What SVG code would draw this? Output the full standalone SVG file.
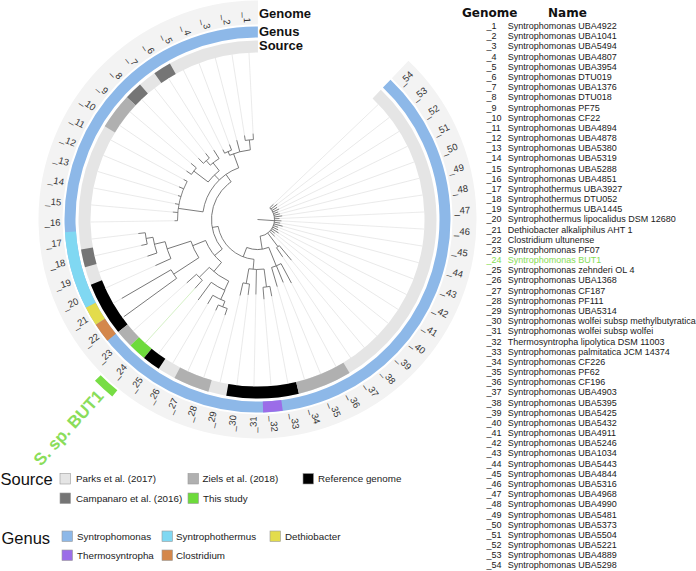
<svg xmlns="http://www.w3.org/2000/svg" width="696" height="571" viewBox="0 0 696 571">
<style>
text{font-family:"Liberation Sans",Arial,sans-serif}
.t line{stroke:#666;stroke-width:.8}
.t circle{fill:none;stroke:#666;stroke-width:.8}
.c line{stroke:#e6e6e6;stroke-width:.8}
.ring circle{fill:none}
.lab{font-size:9.5px;fill:#333}
.lst{font-size:9px;fill:#1a1a1a}
.lg{font-size:9.8px;fill:#222}
.sw{stroke:#9a9a9a;stroke-width:.6}
.hd{font-size:13px;font-weight:bold;fill:#111}
.hd2{font-family:"DejaVu Sans",Verdana,sans-serif;font-size:12px;font-weight:bold;fill:#111}
.ttl{font-size:16.5px;fill:#111}
</style>
<rect width="696" height="571" fill="#fff"/>
<g transform="translate(257.5 219.5)">
 <g id="rings" class="ring">
  <circle r="207" stroke="#f3f3f3" stroke-width="24" transform="rotate(-46.44)" stroke-dasharray="1143.2 3000"/>
  <g id="genus-ring">
   <circle r="187.5" stroke="#8db8e8" stroke-width="11" transform="rotate(-46.44)" stroke-dasharray="1035.5 3000"/>
   <circle r="187.5" stroke="#80d8f2" stroke-width="11" transform="rotate(-207.2)" stroke-dasharray="76.71 3000"/>
   <circle r="187.5" stroke="#e3dc4c" stroke-width="11" transform="rotate(-213.06)" stroke-dasharray="19.18 3000"/>
   <circle r="187.5" stroke="#d4874b" stroke-width="11" transform="rotate(-218.92)" stroke-dasharray="19.18 3000"/>
   <circle r="187.5" stroke="#9b6de8" stroke-width="11" transform="rotate(-277.52)" stroke-dasharray="19.18 3000"/>
  </g>
  <g id="source-ring">
   <circle r="173" stroke="#e5e5e5" stroke-width="12" transform="rotate(-46.44)" stroke-dasharray="955.5 3000"/>
   <circle r="173" stroke="#757575" stroke-width="12" transform="rotate(-125.16)" stroke-dasharray="17.69 3000"/>
   <circle r="173" stroke="#757575" stroke-width="12" transform="rotate(-136.88)" stroke-dasharray="17.69 3000"/>
   <circle r="173" stroke="#b0b0b0" stroke-width="12" transform="rotate(-148.6)" stroke-dasharray="35.39 3000"/>
   <circle r="173" stroke="#757575" stroke-width="12" transform="rotate(-195.48)" stroke-dasharray="17.69 3000"/>
   <circle r="173" stroke="#000" stroke-width="12" transform="rotate(-218.92)" stroke-dasharray="53.08 3000"/>
   <circle r="173" stroke="#b0b0b0" stroke-width="12" transform="rotate(-224.78)" stroke-dasharray="17.69 3000"/>
   <circle r="173" stroke="#6ddb3b" stroke-width="12" transform="rotate(-230.64)" stroke-dasharray="17.69 3000"/>
   <circle r="173" stroke="#000" stroke-width="12" transform="rotate(-236.5)" stroke-dasharray="17.69 3000"/>
   <circle r="173" stroke="#b0b0b0" stroke-width="12" transform="rotate(-254.08)" stroke-dasharray="35.39 3000"/>
   <circle r="173" stroke="#000" stroke-width="12" transform="rotate(-283.38)" stroke-dasharray="70.77 3000"/>
   <circle r="173" stroke="#b0b0b0" stroke-width="12" transform="rotate(-300.96)" stroke-dasharray="53.08 3000"/>
  </g>
  <circle id="but1-bar" r="225" stroke="#77dd44" stroke-width="8" transform="rotate(-230.64)" stroke-dasharray="23.01 3000"/>
 </g>
 <g id="leaf-connectors" class="c">
  <line transform="rotate(-2.93)" y1="-86" y2="-167"/>
  <line transform="rotate(-8.79)" y1="-85" y2="-167"/>
  <line transform="rotate(-14.65)" y1="-82" y2="-167"/>
  <line transform="rotate(-20.51)" y1="-80" y2="-167"/>
  <line transform="rotate(-26.37)" y1="-78" y2="-167"/>
  <line transform="rotate(-32.24)" y1="-82" y2="-167"/>
  <line transform="rotate(-38.1)" y1="-84" y2="-167"/>
  <line transform="rotate(-43.96)" y1="-85" y2="-167"/>
  <line transform="rotate(-49.82)" y1="-87" y2="-167"/>
  <line transform="rotate(-55.68)" y1="-86" y2="-167"/>
  <line transform="rotate(-61.55)" y1="-84" y2="-167"/>
  <line transform="rotate(-67.41)" y1="-85" y2="-167"/>
  <line transform="rotate(-73.27)" y1="-83" y2="-167"/>
  <line transform="rotate(-79.13)" y1="-84" y2="-167"/>
  <line transform="rotate(-84.99)" y1="-85" y2="-167"/>
  <line transform="rotate(-90.86)" y1="-83" y2="-167"/>
  <line transform="rotate(-96.72)" y1="-120" y2="-167"/>
  <line transform="rotate(-102.58)" y1="-119" y2="-167"/>
  <line transform="rotate(-108.44)" y1="-116" y2="-167"/>
  <line transform="rotate(-114.3)" y1="-112" y2="-167"/>
  <line transform="rotate(-120.17)" y1="-157" y2="-167"/>
  <line transform="rotate(-126.03)" y1="-165" y2="-167"/>
  <line transform="rotate(-131.89)" y1="-95" y2="-167"/>
  <line transform="rotate(-137.75)" y1="-93" y2="-167" style="stroke:#cdeebb"/>
  <line transform="rotate(-143.61)" y1="-100" y2="-167"/>
  <line transform="rotate(-149.47)" y1="-98" y2="-167"/>
  <line transform="rotate(-155.34)" y1="-100" y2="-167"/>
  <line transform="rotate(-161.2)" y1="-101" y2="-167"/>
  <line transform="rotate(-167.06)" y1="-78" y2="-167"/>
  <line transform="rotate(-172.92)" y1="-76" y2="-167"/>
  <line transform="rotate(-178.78)" y1="-75" y2="-167"/>
  <line transform="rotate(-184.65)" y1="-80" y2="-167"/>
  <line transform="rotate(-190.51)" y1="-78" y2="-167"/>
  <line transform="rotate(163.63)" y1="-70" y2="-167"/>
  <line transform="rotate(157.77)" y1="-68" y2="-167"/>
  <line transform="rotate(151.91)" y1="-72" y2="-167"/>
  <line transform="rotate(146.04)" y1="-45" y2="-167"/>
  <line transform="rotate(140.18)" y1="-53" y2="-167"/>
  <line transform="rotate(134.32)" y1="-24" y2="-167"/>
  <line transform="rotate(128.46)" y1="-22" y2="-167"/>
  <line transform="rotate(122.6)" y1="-25" y2="-167"/>
  <line transform="rotate(116.73)" y1="-23" y2="-167"/>
  <line transform="rotate(110.87)" y1="-22" y2="-167"/>
  <line transform="rotate(105.01)" y1="-26" y2="-167"/>
  <line transform="rotate(99.15)" y1="-23" y2="-167"/>
  <line transform="rotate(93.29)" y1="-24" y2="-167"/>
  <line transform="rotate(87.42)" y1="-22" y2="-167"/>
  <line transform="rotate(81.56)" y1="-25" y2="-167"/>
  <line transform="rotate(75.7)" y1="-23" y2="-167"/>
  <line transform="rotate(69.84)" y1="-22" y2="-167"/>
  <line transform="rotate(63.98)" y1="-24" y2="-167"/>
  <line transform="rotate(58.11)" y1="-23" y2="-167"/>
  <line transform="rotate(52.25)" y1="-25" y2="-167"/>
  <line transform="rotate(46.39)" y1="-22" y2="-167"/>
 </g>
 <g id="tree" class="t">
  <line transform="rotate(94)" y1="0" y2="-17"/>
  <line transform="rotate(143)" y1="-17" y2="-34"/>
  <line transform="rotate(171)" y1="-17" y2="-30"/>
  <line transform="rotate(158)" y1="-30" y2="-50"/>
  <line transform="rotate(-159)" y1="-30" y2="-40"/>
  <line transform="rotate(-175)" y1="-40" y2="-50"/>
  <line transform="rotate(-100)" y1="-40" y2="-46"/>
  <line transform="rotate(-35)" y1="-46" y2="-55"/>
  <line transform="rotate(-130)" y1="-46" y2="-56"/>
  <line transform="rotate(-20)" y1="-55" y2="-70"/>
  <line transform="rotate(-5.86)" y1="-70" y2="-80"/>
  <line transform="rotate(-23.44)" y1="-70" y2="-74"/>
  <line transform="rotate(-44)" y1="-55" y2="-62"/>
  <line transform="rotate(-38.1)" y1="-62" y2="-72"/>
  <line transform="rotate(-41.03)" y1="-72" y2="-78"/>
  <line transform="rotate(-52.75)" y1="-62" y2="-80"/>
  <line transform="rotate(-82)" y1="-55" y2="-80"/>
  <line transform="rotate(-112)" y1="-56" y2="-70"/>
  <line transform="rotate(-108)" y1="-70" y2="-95"/>
  <line transform="rotate(-103.5)" y1="-95" y2="-106"/>
  <line transform="rotate(-99.65)" y1="-106" y2="-113"/>
  <line transform="rotate(-123.1)" y1="-70" y2="-100"/>
  <line transform="rotate(-140)" y1="-56" y2="-68"/>
  <line transform="rotate(-134.8)" y1="-68" y2="-82"/>
  <line transform="rotate(-155)" y1="-68" y2="-78"/>
  <line transform="rotate(-155.3)" y1="-78" y2="-88"/>
  <line transform="rotate(-158.27)" y1="-88" y2="-94"/>
  <line transform="rotate(-170)" y1="-50" y2="-65"/>
  <line transform="rotate(-187.58)" y1="-50" y2="-68"/>
  <circle r="17" transform="rotate(-43.61)" stroke-dasharray="36.97 2000"/>
  <circle r="34" transform="rotate(50.18)" stroke-dasharray="3.48 2000"/>
  <circle r="30" transform="rotate(68)" stroke-dasharray="22.51 2000"/>
  <circle r="50" transform="rotate(61.91)" stroke-dasharray="10.23 2000"/>
  <circle r="40" transform="rotate(-265)" stroke-dasharray="52.36 2000"/>
  <circle r="46" transform="rotate(-220)" stroke-dasharray="76.27 2000"/>
  <circle r="55" transform="rotate(-172)" stroke-dasharray="59.52 2000"/>
  <circle r="70" transform="rotate(-113.44)" stroke-dasharray="21.48 2000"/>
  <circle r="80" transform="rotate(-98.79)" stroke-dasharray="8.18 2000"/>
  <circle r="74" transform="rotate(-116.37)" stroke-dasharray="7.57 2000"/>
  <circle r="62" transform="rotate(-142.75)" stroke-dasharray="15.85 2000"/>
  <circle r="72" transform="rotate(-131.03)" stroke-dasharray="11.05 2000"/>
  <circle r="78" transform="rotate(-133.96)" stroke-dasharray="7.98 2000"/>
  <circle r="80" transform="rotate(-145.68)" stroke-dasharray="8.18 2000"/>
  <circle r="80" transform="rotate(-180.86)" stroke-dasharray="40.92 2000"/>
  <circle r="56" transform="rotate(-230)" stroke-dasharray="27.37 2000"/>
  <circle r="70" transform="rotate(-213.1)" stroke-dasharray="18.45 2000"/>
  <circle r="95" transform="rotate(-204.3)" stroke-dasharray="17.91 2000"/>
  <circle r="106" transform="rotate(-198.44)" stroke-dasharray="16.26 2000"/>
  <circle r="113" transform="rotate(-192.58)" stroke-dasharray="11.56 2000"/>
  <circle r="100" transform="rotate(-216.03)" stroke-dasharray="10.23 2000"/>
  <circle r="68" transform="rotate(-245)" stroke-dasharray="23.97 2000"/>
  <circle r="82" transform="rotate(-227.75)" stroke-dasharray="8.39 2000"/>
  <circle r="78" transform="rotate(-245.3)" stroke-dasharray="15.91 2000"/>
  <circle r="88" transform="rotate(-248.27)" stroke-dasharray="13.52 2000"/>
  <circle r="94" transform="rotate(-251.2)" stroke-dasharray="9.61 2000"/>
  <circle r="50" transform="rotate(-277.58)" stroke-dasharray="15.34 2000"/>
  <circle r="65" transform="rotate(-262.92)" stroke-dasharray="6.65 2000"/>
  <circle r="68" transform="rotate(-280.51)" stroke-dasharray="6.95 2000"/>
  <line transform="rotate(-2.93)" y1="-80" y2="-86"/>
  <line transform="rotate(-8.79)" y1="-80" y2="-85"/>
  <line transform="rotate(-14.65)" y1="-70" y2="-82"/>
  <line transform="rotate(-20.51)" y1="-74" y2="-80"/>
  <line transform="rotate(-26.37)" y1="-74" y2="-78"/>
  <line transform="rotate(-32.24)" y1="-72" y2="-82"/>
  <line transform="rotate(-38.1)" y1="-78" y2="-84"/>
  <line transform="rotate(-43.96)" y1="-78" y2="-85"/>
  <line transform="rotate(-49.82)" y1="-80" y2="-87"/>
  <line transform="rotate(-55.68)" y1="-80" y2="-86"/>
  <line transform="rotate(-61.55)" y1="-80" y2="-84"/>
  <line transform="rotate(-67.41)" y1="-80" y2="-85"/>
  <line transform="rotate(-73.27)" y1="-80" y2="-83"/>
  <line transform="rotate(-79.13)" y1="-80" y2="-84"/>
  <line transform="rotate(-84.99)" y1="-80" y2="-85"/>
  <line transform="rotate(-90.86)" y1="-80" y2="-83"/>
  <line transform="rotate(-96.72)" y1="-113" y2="-120"/>
  <line transform="rotate(-102.58)" y1="-113" y2="-119"/>
  <line transform="rotate(-108.44)" y1="-106" y2="-116"/>
  <line transform="rotate(-114.3)" y1="-95" y2="-112"/>
  <line transform="rotate(-120.17)" y1="-100" y2="-157"/>
  <line transform="rotate(-126.03)" y1="-100" y2="-165"/>
  <line transform="rotate(-131.89)" y1="-82" y2="-95"/>
  <line transform="rotate(-137.75)" y1="-82" y2="-93"/>
  <line transform="rotate(-143.61)" y1="-78" y2="-100"/>
  <line transform="rotate(-149.47)" y1="-88" y2="-98"/>
  <line transform="rotate(-155.34)" y1="-94" y2="-100"/>
  <line transform="rotate(-161.2)" y1="-94" y2="-101"/>
  <line transform="rotate(-167.06)" y1="-65" y2="-78"/>
  <line transform="rotate(-172.92)" y1="-65" y2="-76"/>
  <line transform="rotate(-178.78)" y1="-50" y2="-75"/>
  <line transform="rotate(-184.65)" y1="-68" y2="-80"/>
  <line transform="rotate(-190.51)" y1="-68" y2="-78"/>
  <line transform="rotate(163.63)" y1="-50" y2="-70"/>
  <line transform="rotate(157.77)" y1="-50" y2="-68"/>
  <line transform="rotate(151.91)" y1="-50" y2="-72"/>
  <line transform="rotate(146.04)" y1="-34" y2="-45"/>
  <line transform="rotate(140.18)" y1="-34" y2="-53"/>
  <line transform="rotate(134.32)" y1="-17" y2="-24"/>
  <line transform="rotate(128.46)" y1="-17" y2="-22"/>
  <line transform="rotate(122.6)" y1="-17" y2="-25"/>
  <line transform="rotate(116.73)" y1="-17" y2="-23"/>
  <line transform="rotate(110.87)" y1="-17" y2="-22"/>
  <line transform="rotate(105.01)" y1="-17" y2="-26"/>
  <line transform="rotate(99.15)" y1="-17" y2="-23"/>
  <line transform="rotate(93.29)" y1="-17" y2="-24"/>
  <line transform="rotate(87.42)" y1="-17" y2="-22"/>
  <line transform="rotate(81.56)" y1="-17" y2="-25"/>
  <line transform="rotate(75.7)" y1="-17" y2="-23"/>
  <line transform="rotate(69.84)" y1="-17" y2="-22"/>
  <line transform="rotate(63.98)" y1="-17" y2="-24"/>
  <line transform="rotate(58.11)" y1="-17" y2="-23"/>
  <line transform="rotate(52.25)" y1="-17" y2="-25"/>
  <line transform="rotate(46.39)" y1="-17" y2="-22"/>
 </g>
 <g id="ring-labels" class="lab" opacity="0.99">
  <text transform="rotate(87.07) translate(-197 0)" text-anchor="end" dy=".35em">_1</text>
  <text transform="rotate(81.21) translate(-197 0)" text-anchor="end" dy=".35em">_2</text>
  <text transform="rotate(75.35) translate(-197 0)" text-anchor="end" dy=".35em">_3</text>
  <text transform="rotate(69.49) translate(-197 0)" text-anchor="end" dy=".35em">_4</text>
  <text transform="rotate(63.63) translate(-197 0)" text-anchor="end" dy=".35em">_5</text>
  <text transform="rotate(57.76) translate(-197 0)" text-anchor="end" dy=".35em">_6</text>
  <text transform="rotate(51.9) translate(-197 0)" text-anchor="end" dy=".35em">_7</text>
  <text transform="rotate(46.04) translate(-197 0)" text-anchor="end" dy=".35em">_8</text>
  <text transform="rotate(40.18) translate(-197 0)" text-anchor="end" dy=".35em">_9</text>
  <text transform="rotate(34.32) translate(-197 0)" text-anchor="end" dy=".35em">_10</text>
  <text transform="rotate(28.45) translate(-197 0)" text-anchor="end" dy=".35em">_11</text>
  <text transform="rotate(22.59) translate(-197 0)" text-anchor="end" dy=".35em">_12</text>
  <text transform="rotate(16.73) translate(-197 0)" text-anchor="end" dy=".35em">_13</text>
  <text transform="rotate(10.87) translate(-197 0)" text-anchor="end" dy=".35em">_14</text>
  <text transform="rotate(5.01) translate(-197 0)" text-anchor="end" dy=".35em">_15</text>
  <text transform="rotate(-0.86) translate(-197 0)" text-anchor="end" dy=".35em">_16</text>
  <text transform="rotate(-6.72) translate(-197 0)" text-anchor="end" dy=".35em">_17</text>
  <text transform="rotate(-12.58) translate(-197 0)" text-anchor="end" dy=".35em">_18</text>
  <text transform="rotate(-18.44) translate(-197 0)" text-anchor="end" dy=".35em">_19</text>
  <text transform="rotate(-24.3) translate(-197 0)" text-anchor="end" dy=".35em">_20</text>
  <text transform="rotate(-30.17) translate(-197 0)" text-anchor="end" dy=".35em">_21</text>
  <text transform="rotate(-36.03) translate(-197 0)" text-anchor="end" dy=".35em">_22</text>
  <text transform="rotate(-41.89) translate(-197 0)" text-anchor="end" dy=".35em">_23</text>
  <text transform="rotate(-47.75) translate(-197 0)" text-anchor="end" dy=".35em">_24</text>
  <text transform="rotate(-53.61) translate(-197 0)" text-anchor="end" dy=".35em">_25</text>
  <text transform="rotate(-59.47) translate(-197 0)" text-anchor="end" dy=".35em">_26</text>
  <text transform="rotate(-65.34) translate(-197 0)" text-anchor="end" dy=".35em">_27</text>
  <text transform="rotate(-71.2) translate(-197 0)" text-anchor="end" dy=".35em">_28</text>
  <text transform="rotate(-77.06) translate(-197 0)" text-anchor="end" dy=".35em">_29</text>
  <text transform="rotate(-82.92) translate(-197 0)" text-anchor="end" dy=".35em">_30</text>
  <text transform="rotate(-88.78) translate(-197 0)" text-anchor="end" dy=".35em">_31</text>
  <text transform="rotate(85.35) translate(197 0)" dy=".35em">_32</text>
  <text transform="rotate(79.49) translate(197 0)" dy=".35em">_33</text>
  <text transform="rotate(73.63) translate(197 0)" dy=".35em">_34</text>
  <text transform="rotate(67.77) translate(197 0)" dy=".35em">_35</text>
  <text transform="rotate(61.91) translate(197 0)" dy=".35em">_36</text>
  <text transform="rotate(56.04) translate(197 0)" dy=".35em">_37</text>
  <text transform="rotate(50.18) translate(197 0)" dy=".35em">_38</text>
  <text transform="rotate(44.32) translate(197 0)" dy=".35em">_39</text>
  <text transform="rotate(38.46) translate(197 0)" dy=".35em">_40</text>
  <text transform="rotate(32.6) translate(197 0)" dy=".35em">_41</text>
  <text transform="rotate(26.73) translate(197 0)" dy=".35em">_42</text>
  <text transform="rotate(20.87) translate(197 0)" dy=".35em">_43</text>
  <text transform="rotate(15.01) translate(197 0)" dy=".35em">_44</text>
  <text transform="rotate(9.15) translate(197 0)" dy=".35em">_45</text>
  <text transform="rotate(3.29) translate(197 0)" dy=".35em">_46</text>
  <text transform="rotate(-2.58) translate(197 0)" dy=".35em">_47</text>
  <text transform="rotate(-8.44) translate(197 0)" dy=".35em">_48</text>
  <text transform="rotate(-14.3) translate(197 0)" dy=".35em">_49</text>
  <text transform="rotate(-20.16) translate(197 0)" dy=".35em">_50</text>
  <text transform="rotate(-26.02) translate(197 0)" dy=".35em">_51</text>
  <text transform="rotate(-31.89) translate(197 0)" dy=".35em">_52</text>
  <text transform="rotate(-37.75) translate(197 0)" dy=".35em">_53</text>
  <text transform="rotate(-43.61) translate(197 0)" dy=".35em">_54</text>
 </g>
 <text id="but1-label" transform="rotate(-47.75) translate(-234 0)" text-anchor="end" dy=".35em" style="font-size:17px;font-weight:bold;fill:#8add5a">S. sp. BUT1</text>
</g>
<g id="ring-titles" class="hd">
 <text x="259" y="17.5">Genome</text>
 <text x="259" y="36">Genus</text>
 <text x="259" y="49.5">Source</text>
</g>
<g id="legend-source">
 <text class="ttl" x="0.5" y="485">Source</text>
 <rect class="sw" x="60" y="473.5" width="10.5" height="10.5" fill="#e5e5e5"/>
 <text class="lg" x="76" y="482">Parks et al. (2017)</text>
 <rect class="sw" x="188" y="473.5" width="10.5" height="10.5" fill="#b0b0b0"/>
 <text class="lg" x="202.5" y="482">Ziels et al. (2018)</text>
 <rect class="sw" x="303" y="473.5" width="10.5" height="10.5" fill="#000"/>
 <text class="lg" x="318" y="482">Reference genome</text>
 <rect class="sw" x="60" y="493" width="10.5" height="10.5" fill="#757575"/>
 <text class="lg" x="76" y="501.5">Campanaro et al. (2016)</text>
 <rect class="sw" x="188" y="493" width="10.5" height="10.5" fill="#6ddb3b"/>
 <text class="lg" x="203" y="501.5">This study</text>
</g>
<g id="legend-genus">
 <text class="ttl" x="1.5" y="543.5">Genus</text>
 <rect class="sw" x="62" y="531" width="10.5" height="10.5" fill="#8db8e8"/>
 <text class="lg" x="77" y="539.5">Syntrophomonas</text>
 <rect class="sw" x="162" y="531" width="10.5" height="10.5" fill="#80d8f2"/>
 <text class="lg" x="176" y="539.5">Syntrophothermus</text>
 <rect class="sw" x="270" y="531" width="10.5" height="10.5" fill="#e3dc4c"/>
 <text class="lg" x="285" y="539.5">Dethiobacter</text>
 <rect class="sw" x="62" y="550" width="10.5" height="10.5" fill="#9b6de8"/>
 <text class="lg" x="77" y="558.5">Thermosyntropha</text>
 <rect class="sw" x="162" y="550" width="10.5" height="10.5" fill="#d4874b"/>
 <text class="lg" x="176" y="558.5">Clostridium</text>
</g>
<g id="genome-list" class="lst">
 <text class="hd2" x="462" y="17">Genome</text>
 <text class="hd2" x="548" y="17">Name</text>
 <text y="29.1"><tspan x="486.5">_1</tspan><tspan x="507.7">Syntrophomonas UBA4922</tspan></text>
 <text y="39.28"><tspan x="486.5">_2</tspan><tspan x="507.7">Syntrophomonas UBA1041</tspan></text>
 <text y="49.45"><tspan x="486.5">_3</tspan><tspan x="507.7">Syntrophomonas UBA5494</tspan></text>
 <text y="59.63"><tspan x="486.5">_4</tspan><tspan x="507.7">Syntrophomonas UBA4807</tspan></text>
 <text y="69.8"><tspan x="486.5">_5</tspan><tspan x="507.7">Syntrophomonas UBA3954</tspan></text>
 <text y="79.98"><tspan x="486.5">_6</tspan><tspan x="507.7">Syntrophomonas DTU019</tspan></text>
 <text y="90.15"><tspan x="486.5">_7</tspan><tspan x="507.7">Syntrophomonas UBA1376</tspan></text>
 <text y="100.33"><tspan x="486.5">_8</tspan><tspan x="507.7">Syntrophomonas DTU018</tspan></text>
 <text y="110.5"><tspan x="486.5">_9</tspan><tspan x="507.7">Syntrophomonas PF75</tspan></text>
 <text y="120.68"><tspan x="486.5">_10</tspan><tspan x="507.7">Syntrophomonas CF22</tspan></text>
 <text y="130.85"><tspan x="486.5">_11</tspan><tspan x="507.7">Syntrophomonas UBA4894</tspan></text>
 <text y="141.03"><tspan x="486.5">_12</tspan><tspan x="507.7">Syntrophomonas UBA4878</tspan></text>
 <text y="151.2"><tspan x="486.5">_13</tspan><tspan x="507.7">Syntrophomonas UBA5380</tspan></text>
 <text y="161.38"><tspan x="486.5">_14</tspan><tspan x="507.7">Syntrophomonas UBA5319</tspan></text>
 <text y="171.55"><tspan x="486.5">_15</tspan><tspan x="507.7">Syntrophomonas UBA5288</tspan></text>
 <text y="181.73"><tspan x="486.5">_16</tspan><tspan x="507.7">Syntrophomonas UBA4851</tspan></text>
 <text y="191.9"><tspan x="486.5">_17</tspan><tspan x="507.7">Syntrophothermus UBA3927</tspan></text>
 <text y="202.08"><tspan x="486.5">_18</tspan><tspan x="507.7">Syntrophothermus DTU052</tspan></text>
 <text y="212.25"><tspan x="486.5">_19</tspan><tspan x="507.7">Syntrophothermus UBA1445</tspan></text>
 <text y="222.43"><tspan x="486.5">_20</tspan><tspan x="507.7">Syntrophothermus lipocalidus DSM 12680</tspan></text>
 <text y="232.6"><tspan x="486.5">_21</tspan><tspan x="507.7">Dethiobacter alkaliphilus AHT 1</tspan></text>
 <text y="242.78"><tspan x="486.5">_22</tspan><tspan x="507.7">Clostridium ultunense</tspan></text>
 <text y="252.95"><tspan x="486.5">_23</tspan><tspan x="507.7">Syntrophomonas PF07</tspan></text>
 <text y="263.13" style="fill:#86db55"><tspan x="486.5">_24</tspan><tspan x="507.7">Syntrophomonas BUT1</tspan></text>
 <text y="273.3"><tspan x="486.5">_25</tspan><tspan x="507.7">Syntrophomonas zehnderi OL 4</tspan></text>
 <text y="283.48"><tspan x="486.5">_26</tspan><tspan x="507.7">Syntrophomonas UBA1368</tspan></text>
 <text y="293.65"><tspan x="486.5">_27</tspan><tspan x="507.7">Syntrophomonas CF187</tspan></text>
 <text y="303.83"><tspan x="486.5">_28</tspan><tspan x="507.7">Syntrophomonas PF111</tspan></text>
 <text y="314"><tspan x="486.5">_29</tspan><tspan x="507.7">Syntrophomonas UBA5314</tspan></text>
 <text y="324.18"><tspan x="486.5">_30</tspan><tspan x="507.7">Syntrophomonas wolfei subsp methylbutyratica</tspan></text>
 <text y="334.35"><tspan x="486.5">_31</tspan><tspan x="507.7">Syntrophomonas wolfei subsp wolfei</tspan></text>
 <text y="344.53"><tspan x="486.5">_32</tspan><tspan x="507.7">Thermosyntropha lipolytica DSM 11003</tspan></text>
 <text y="354.7"><tspan x="486.5">_33</tspan><tspan x="507.7">Syntrophomonas palmitatica JCM 14374</tspan></text>
 <text y="364.88"><tspan x="486.5">_34</tspan><tspan x="507.7">Syntrophomonas CF226</tspan></text>
 <text y="375.05"><tspan x="486.5">_35</tspan><tspan x="507.7">Syntrophomonas PF62</tspan></text>
 <text y="385.23"><tspan x="486.5">_36</tspan><tspan x="507.7">Syntrophomonas CF196</tspan></text>
 <text y="395.4"><tspan x="486.5">_37</tspan><tspan x="507.7">Syntrophomonas UBA4903</tspan></text>
 <text y="405.58"><tspan x="486.5">_38</tspan><tspan x="507.7">Syntrophomonas UBA5395</tspan></text>
 <text y="415.75"><tspan x="486.5">_39</tspan><tspan x="507.7">Syntrophomonas UBA5425</tspan></text>
 <text y="425.93"><tspan x="486.5">_40</tspan><tspan x="507.7">Syntrophomonas UBA5432</tspan></text>
 <text y="436.1"><tspan x="486.5">_41</tspan><tspan x="507.7">Syntrophomonas UBA4911</tspan></text>
 <text y="446.28"><tspan x="486.5">_42</tspan><tspan x="507.7">Syntrophomonas UBA5246</tspan></text>
 <text y="456.45"><tspan x="486.5">_43</tspan><tspan x="507.7">Syntrophomonas UBA1034</tspan></text>
 <text y="466.63"><tspan x="486.5">_44</tspan><tspan x="507.7">Syntrophomonas UBA5443</tspan></text>
 <text y="476.8"><tspan x="486.5">_45</tspan><tspan x="507.7">Syntrophomonas UBA4844</tspan></text>
 <text y="486.98"><tspan x="486.5">_46</tspan><tspan x="507.7">Syntrophomonas UBA5316</tspan></text>
 <text y="497.15"><tspan x="486.5">_47</tspan><tspan x="507.7">Syntrophomonas UBA4968</tspan></text>
 <text y="507.33"><tspan x="486.5">_48</tspan><tspan x="507.7">Syntrophomonas UBA4990</tspan></text>
 <text y="517.5"><tspan x="486.5">_49</tspan><tspan x="507.7">Syntrophomonas UBA5481</tspan></text>
 <text y="527.68"><tspan x="486.5">_50</tspan><tspan x="507.7">Syntrophomonas UBA5373</tspan></text>
 <text y="537.85"><tspan x="486.5">_51</tspan><tspan x="507.7">Syntrophomonas UBA5504</tspan></text>
 <text y="548.03"><tspan x="486.5">_52</tspan><tspan x="507.7">Syntrophomonas UBA5221</tspan></text>
 <text y="558.2"><tspan x="486.5">_53</tspan><tspan x="507.7">Syntrophomonas UBA4889</tspan></text>
 <text y="568.38"><tspan x="486.5">_54</tspan><tspan x="507.7">Syntrophomonas UBA5298</tspan></text>
</g>
</svg>
